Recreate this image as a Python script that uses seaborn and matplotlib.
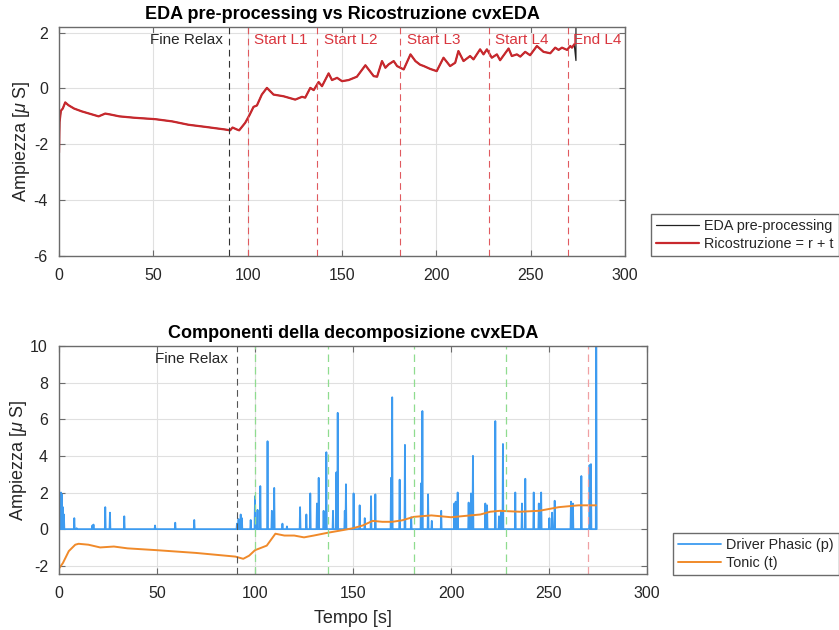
import numpy as np
import pandas as pd
import matplotlib
matplotlib.use("Agg")
import matplotlib.pyplot as plt
import seaborn as sns

# ---- Ricostruzione (r + t), campioni principali del segnale [s, uS]
recon_t = [0.0, 0.3, 1.0, 2.0, 3.3, 5.0, 8.0, 12.0, 16.0, 21.0, 24.5, 27.0, 32.0, 40.0,
           51.0, 60.0, 68.6, 78.0, 88.0, 90.7, 92.0, 94.3, 95.5, 98.7, 101.0, 103.1,
           104.9, 107.5, 110.2, 113.7, 119.0, 125.2, 128.8, 130.5, 133.2, 135.0,
           137.6, 139.4, 142.9, 144.7, 147.4, 150.0, 153.5, 157.9, 162.4, 166.8,
           168.6, 171.2, 173.0, 174.7, 177.4, 179.2, 182.7, 186.3, 188.9, 191.4,
           193.4, 196.7, 200.2, 203.8, 207.3, 210.0, 211.7, 214.4, 217.9, 219.7,
           223.2, 225.0, 226.8, 229.4, 232.1, 233.8, 238.3, 240.0, 242.7, 244.5,
           247.1, 249.7, 253.3, 256.8, 260.4, 263.0, 264.8, 266.6, 269.3, 271.0,
           271.9, 273.1]
recon_v = [-2.30, -1.20, -0.80, -0.72, -0.50, -0.60, -0.72, -0.82, -0.90, -1.00, -0.90,
           -0.93, -1.00, -1.05, -1.10, -1.18, -1.30, -1.38, -1.47, -1.50, -1.40, -1.47,
           -1.50, -1.23, -0.95, -0.66, -0.61, -0.22, 0.02, -0.22, -0.28, -0.40, -0.30,
           -0.33, 0.02, -0.06, 0.23, 0.08, 0.54, 0.30, 0.38, 0.26, 0.30, 0.42, 0.83,
           0.44, 0.42, 0.98, 0.74, 0.86, 0.98, 0.80, 0.68, 1.22, 0.98, 0.85, 0.80,
           0.70, 0.62, 1.10, 0.80, 0.92, 1.34, 0.98, 1.16, 1.04, 1.40, 1.22, 1.40,
           1.10, 1.22, 1.01, 1.43, 1.16, 1.22, 1.14, 1.31, 1.19, 1.52, 1.31, 1.26,
           1.46, 1.38, 1.46, 1.38, 1.52, 1.46, 1.58]

# ---- EDA pre-processing: coincide con la ricostruzione, salto finale fuori scala
eda_tail_t = [274.0, 274.0]
eda_tail_v = [1.0, 6.0]

# ---- Driver fasico: istanti e ampiezze degli impulsi
spike_t = [0.5, 1.0, 1.5, 2.0, 2.5, 7.8, 9.0, 17.0, 17.6, 23.6, 26.0, 33.3, 49.0, 59.3,
           69.0, 90.8, 91.6, 92.7, 93.3, 97.8, 100.0, 101.3, 102.7, 106.4, 108.6,
           109.8, 114.0, 116.3, 123.0, 126.2, 128.2, 131.6, 132.5, 135.0, 136.4,
           139.8, 141.5, 142.2, 145.8, 146.4, 150.3, 153.4, 156.0, 159.2, 161.4,
           169.4, 170.0, 173.8, 176.5, 179.7, 184.7, 185.4, 188.3, 190.2, 195.0,
           201.7, 202.4, 203.4, 209.0, 210.2, 211.2, 217.5, 218.4, 222.6, 224.5,
           225.5, 226.5, 232.8, 236.2, 237.9, 242.2, 244.8, 246.0, 250.2, 251.6,
           252.9, 261.2, 262.2, 266.5, 270.7, 271.4, 274.1]
spike_h = [1.3, 2.0, 1.9, 1.2, 0.8, 0.6, 0.05, 0.2, 0.25, 1.2, 0.9, 0.7, 0.2, 0.35,
           0.5, 0.3, 0.55, 0.8, 0.6, 0.5, 1.8, 1.05, 2.35, 4.8, 1.0, 2.25, 0.3, 0.15,
           1.2, 0.8, 1.95, 1.4, 2.8, 1.0, 4.2, 1.0, 3.1, 6.35, 1.0, 2.45, 1.95, 1.3,
           0.6, 1.8, 1.9, 2.8, 7.2, 2.7, 4.6, 0.65, 2.5, 6.45, 1.9, 0.45, 1.0, 1.4,
           1.5, 2.0, 1.45, 1.95, 4.0, 1.4, 1.3, 5.9, 0.7, 1.0, 4.65, 2.0, 1.4, 2.75,
           2.0, 1.4, 2.0, 0.6, 0.9, 1.55, 1.5, 1.4, 2.9, 3.5, 3.55, 14.0]

# ---- Componente tonica
tonic_t = [0.0, 2.0, 5.0, 8.3, 10.0, 15.0, 21.0, 28.0, 35.0, 50.0, 70.0, 90.0, 94.0,
           97.0, 100.0, 106.0, 110.4, 115.0, 120.0, 125.0, 130.0, 137.0, 145.0,
           150.0, 155.0, 160.0, 165.0, 170.0, 175.0, 181.0, 190.0, 200.0, 210.0,
           215.0, 220.0, 225.0, 235.0, 245.0, 250.0, 255.0, 260.0, 265.0, 274.0]
tonic_v = [-2.15, -1.85, -1.20, -0.85, -0.80, -0.85, -1.00, -0.95, -1.05, -1.15, -1.30,
           -1.50, -1.62, -1.45, -1.15, -0.90, -0.25, -0.35, -0.35, -0.45, -0.35,
           -0.20, -0.05, 0.05, 0.20, 0.45, 0.40, 0.40, 0.48, 0.67, 0.75, 0.65, 0.75,
           0.80, 0.95, 1.00, 0.95, 1.00, 1.10, 1.20, 1.25, 1.30, 1.30]

# ---- Marcatori di fase
relax_top, relax_bot = 90.0, 90.7
phase_x = [100.0, 137.0, 181.0, 228.0]
phase_lbl = ["Start L1", "Start L2", "Start L3", "Start L4"]
end_x = 270.0
end_lbl = "End L4"

# Tabelle per seaborn
df_recon = pd.DataFrame({"t": recon_t, "v": recon_v})
df_eda = pd.DataFrame({"t": recon_t + eda_tail_t, "v": recon_v + eda_tail_v})

ph_t, ph_v = [0.0], [0.0]
hw = 0.22
for t, h in zip(spike_t, spike_h):
    ph_t += [t - hw, t, t + hw]
    ph_v += [0.0, h, 0.0]
ph_t.append(274.1)
ph_v.append(0.0)
df_phasic = pd.DataFrame({"t": ph_t, "v": ph_v})
df_tonic = pd.DataFrame({"t": tonic_t, "v": tonic_v})

sns.set_theme(style="whitegrid")
plt.rcParams["font.family"] = ["Liberation Sans", "DejaVu Sans"]
plt.rcParams["mathtext.fontset"] = "custom"
plt.rcParams["mathtext.it"] = "Liberation Sans:italic"
plt.rcParams["mathtext.rm"] = "Liberation Sans"
plt.rcParams["axes.unicode_minus"] = False

AX_COL = "#6b6b6b"
TXT_COL = "#262626"
RED = "#c8282d"
BLUE = "#3d9bf0"
ORANGE = "#f08a2a"

fig = plt.figure(figsize=(8.39, 6.30), dpi=100)
ax1 = fig.add_axes([59 / 839, 1 - 256 / 630, (625 - 59) / 839, (256 - 27) / 630])
ax2 = fig.add_axes([59 / 839, 1 - 574 / 630, (647 - 59) / 839, (574 - 346) / 630])


def style_axes(ax):
    ax.set_facecolor("white")
    ax.grid(True, color="#e0e0e0", linewidth=0.8)
    for s in ax.spines.values():
        s.set_color(AX_COL)
        s.set_linewidth(1.0)
    ax.tick_params(direction="in", length=4, width=0.8, color=AX_COL,
                   top=True, right=True, bottom=True, left=True,
                   labelsize=11.5, labelcolor=TXT_COL)
    ax.tick_params(axis="x", pad=9)
    ax.tick_params(axis="y", pad=8)


def make_legend(ax, x0, y0):
    leg = ax.legend(loc="lower left", bbox_to_anchor=(x0, y0),
                    bbox_transform=fig.transFigure, fontsize=10.4, frameon=True,
                    fancybox=False, framealpha=1, edgecolor=AX_COL, borderpad=0.35,
                    handlelength=3.0, handletextpad=0.35, labelspacing=0.3,
                    borderaxespad=0)
    leg.get_frame().set_linewidth(1.0)
    for t in leg.get_texts():
        t.set_color(TXT_COL)
    return leg


# ---------------- pannello superiore ----------------
sns.lineplot(data=df_eda, x="t", y="v", ax=ax1, color="#222222", linewidth=0.9,
             sort=False, estimator=None, label="EDA pre-processing")
sns.lineplot(data=df_recon, x="t", y="v", ax=ax1, color=RED, linewidth=1.6,
             sort=False, estimator=None, label="Ricostruzione = r + t")
ax1.axvline(relax_top, color="#333333", linestyle=(0, (6, 4)), linewidth=0.8)
for x in phase_x + [end_x]:
    ax1.axvline(x, color="#e05a5f", linestyle=(0, (6, 4)), linewidth=0.8)
ax1.text(relax_top - 3.2, 1.74, "Fine Relax", ha="right", va="center",
         fontsize=11, color=TXT_COL)
for x, lbl in zip(phase_x, phase_lbl):
    ax1.text(x + 3.3, 1.74, lbl, ha="left", va="center", fontsize=11, color="#d9363e")
ax1.text(end_x + 2.6, 1.74, end_lbl, ha="left", va="center", fontsize=11, color="#d9363e")
ax1.set_xlim(0, 300)
ax1.set_ylim(-6, 2.2)
ax1.set_xticks(np.arange(0, 301, 50))
ax1.set_yticks([-6, -4, -2, 0, 2])
ax1.set_xlabel("")
ax1.set_ylabel(r"Ampiezza [$\mu$ S]", fontsize=13, color=TXT_COL, labelpad=1)
ax1.set_title("EDA pre-processing vs Ricostruzione cvxEDA", fontsize=13,
              fontweight="bold", color="black", pad=6)
style_axes(ax1)
make_legend(ax1, 651 / 839, 1 - 256 / 630)

# ---------------- pannello inferiore ----------------
sns.lineplot(data=df_phasic, x="t", y="v", ax=ax2, color=BLUE, linewidth=1.3,
             sort=False, estimator=None, label="Driver Phasic (p)")
sns.lineplot(data=df_tonic, x="t", y="v", ax=ax2, color=ORANGE, linewidth=1.4,
             sort=False, estimator=None, label="Tonic (t)")
ax2.axvline(relax_bot, color="#555555", linestyle=(0, (6, 4)), linewidth=0.8)
for x in phase_x:
    ax2.axvline(x, color="#8fdc8f", linestyle=(0, (6, 4)), linewidth=0.9)
ax2.axvline(end_x, color="#f0a0a3", linestyle=(0, (6, 4)), linewidth=0.9)
ax2.text(relax_bot - 4.3, 9.27, "Fine Relax", ha="right", va="center",
         fontsize=11, color=TXT_COL)
ax2.set_xlim(0, 300)
ax2.set_ylim(-2.45, 10)
ax2.set_xticks(np.arange(0, 301, 50))
ax2.set_yticks([-2, 0, 2, 4, 6, 8, 10])
ax2.set_xlabel("Tempo [s]", fontsize=13, color=TXT_COL, labelpad=6)
ax2.set_ylabel(r"Ampiezza [$\mu$ S]", fontsize=13, color=TXT_COL, labelpad=1)
ax2.set_title("Componenti della decomposizione cvxEDA", fontsize=13,
              fontweight="bold", color="black", pad=6)
style_axes(ax2)
make_legend(ax2, 673 / 839, 1 - 575 / 630)

fig.savefig("out.png", dpi=100)
